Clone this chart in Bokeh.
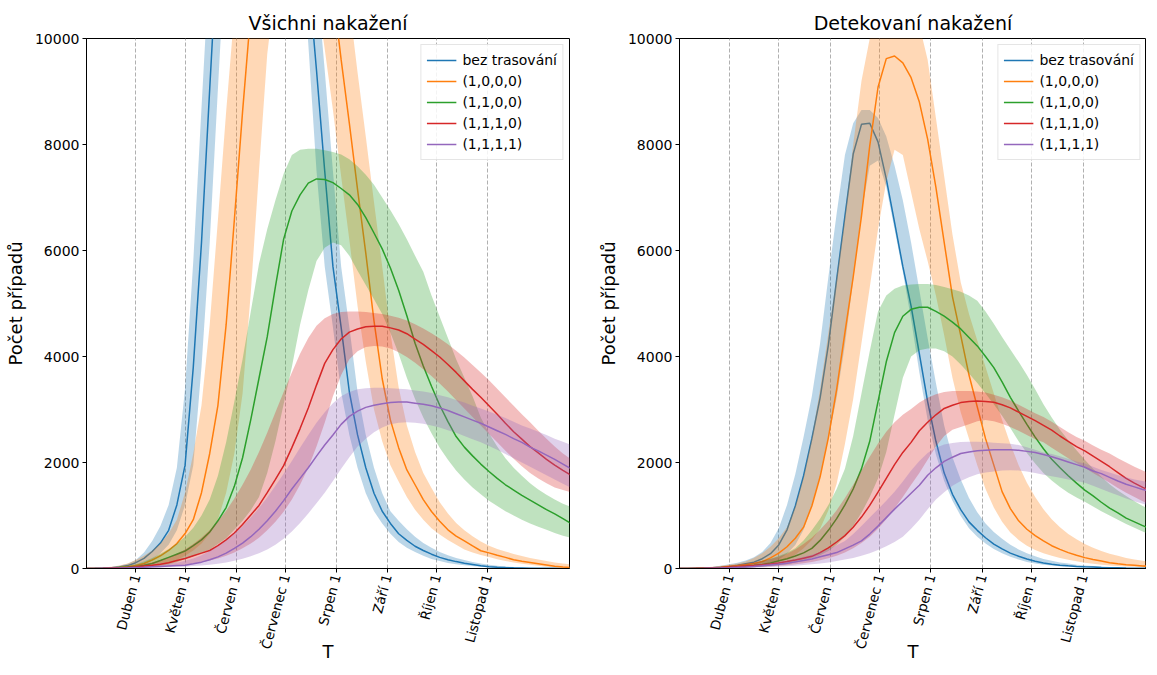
import math
from bokeh.plotting import figure
from bokeh.models import Range1d, FixedTicker, Legend, LegendItem
from bokeh.layouts import row
from bokeh.embed import file_html
from bokeh.resources import INLINE

# day index (days since 2 March), sampled every 5 days
DAYS = list(range(0, 300, 5))
MONTH_TICKS = [30, 60, 91, 121, 152, 183, 213, 244]
MONTH_LABELS = ["Duben 1", "Květen 1", "Červen 1", "Červenec 1",
                "Srpen 1", "Září 1", "Říjen 1", "Listopad 1"]
Y_TICKS = [0, 2000, 4000, 6000, 8000, 10000]
SERIES = ["bez trasování", "(1,0,0,0)", "(1,1,0,0)", "(1,1,1,0)", "(1,1,1,1)"]
COLORS = ["#1f77b4", "#ff7f0e", "#2ca02c", "#d62728", "#9467bd"]

# ---------------- Všichni nakažení (all infected) ----------------
all_blue_mean = [0,3,8,15,30,55,110,190,320,480,720,1200,1950,3800,6150,9050,11900,14500,16800,18500,19500,19800,19300,18000,16300,14500,12800,11200,9400,7500,5700,4550,3330,2520,1900,1420,1080,850,655,530,420,340,270,210,165,130,100,75,50,35,25,18,12,9,6,5,4,3,2,2]
all_blue_hi = [0,5,12,25,50,90,160,300,520,800,1200,1900,3400,5800,8700,11500,14000,16300,18200,19500,20200,20500,20300,19700,18700,17300,15500,13500,11200,9400,7500,5700,4550,3330,2520,1900,1420,1080,900,740,600,480,390,310,250,200,160,125,95,70,52,38,28,20,15,11,8,6,5,4]
all_blue_lo = [0,1,3,6,12,25,50,95,170,290,450,720,1200,1950,3800,6150,9050,11900,14500,16800,18300,19000,18900,17500,15700,13900,12000,9900,7500,5700,4550,3330,2520,1900,1420,1080,850,655,500,390,310,240,180,140,105,80,60,45,32,22,15,10,7,5,3,2,2,1,1,1]

all_orange_mean = [0,2,5,10,18,32,55,95,160,240,340,470,660,920,1430,2170,3080,4600,6580,8620,10500,12400,14000,15200,15900,16100,15700,14800,13600,12200,10900,9600,8400,7150,5950,4670,3580,2800,2280,1860,1580,1300,1075,890,730,610,520,425,335,295,250,210,165,136,113,90,67,44,28,20]
all_orange_hi = [2,8,18,32,55,95,160,240,340,470,660,920,1430,2170,3080,4600,6580,8620,10500,12400,14000,15300,16300,17000,17300,17300,17000,16300,15400,14200,12900,11900,10640,9360,8150,6910,5700,4450,3420,2700,2200,1800,1520,1250,1040,860,720,610,510,430,370,320,275,235,200,170,140,115,95,80]
all_orange_lo = [0,1,2,3,5,7,10,18,32,55,95,160,240,340,470,660,920,1430,2170,3300,5200,7500,9700,11000,11800,12200,12200,11800,10900,9800,8650,7400,6200,4950,3900,3000,2400,1950,1640,1350,1110,920,760,640,540,450,360,300,255,215,175,140,115,90,70,50,35,25,15,10]

all_green_mean = [0,2,5,10,18,25,35,60,95,150,210,270,330,430,540,690,900,1150,1550,2090,2810,3590,4370,5320,6215,6745,7050,7270,7350,7340,7280,7170,7050,6870,6620,6330,6030,5670,5250,4770,4250,3820,3440,3080,2770,2490,2290,2125,1970,1830,1700,1580,1480,1380,1290,1200,1110,1030,940,850]
all_green_hi = [0,3,8,18,30,50,80,130,200,280,370,470,600,770,1000,1300,1750,2380,3150,3950,4850,5750,6400,6950,7450,7800,7900,7920,7920,7890,7860,7810,7720,7590,7430,7240,7000,6760,6500,6210,5900,5600,5150,4750,4350,3950,3600,3250,2850,2550,2300,2080,1900,1750,1610,1490,1390,1300,1220,1160]
all_green_lo = [0,1,2,4,6,10,15,22,30,50,75,120,180,230,290,360,460,570,730,900,1100,1350,1800,2400,3100,3800,4600,5250,5800,6050,6150,6100,5900,5620,5350,5080,4800,4450,4050,3600,3200,2850,2550,2280,2050,1850,1680,1530,1400,1280,1180,1080,1000,920,850,790,730,670,620,580]

all_red_mean = [0,2,5,10,15,20,30,45,60,80,110,150,190,240,290,340,430,540,670,830,1010,1190,1430,1680,1940,2280,2640,3030,3460,3870,4130,4330,4460,4520,4560,4570,4570,4540,4500,4430,4330,4230,4110,3990,3850,3700,3540,3380,3230,3070,2910,2740,2580,2440,2300,2180,2060,1950,1850,1760]
all_red_hi = [0,3,8,15,25,40,60,90,120,160,210,280,360,460,580,720,890,1090,1320,1580,1870,2200,2560,2950,3330,3700,4050,4350,4580,4720,4800,4840,4850,4850,4840,4820,4800,4770,4730,4680,4610,4530,4440,4340,4230,4110,3980,3840,3700,3550,3390,3230,3070,2910,2760,2600,2450,2300,2170,2060]
all_red_lo = [0,1,2,4,6,9,12,16,22,30,40,55,70,90,115,150,190,240,300,380,470,580,720,880,1070,1300,1580,1900,2300,2750,3250,3650,3950,4100,4180,4200,4190,4150,4080,3990,3880,3760,3630,3490,3340,3180,3020,2860,2700,2540,2380,2220,2070,1930,1800,1700,1610,1530,1480,1440]

all_purple_mean = [0,1,3,5,8,12,18,24,32,40,48,55,62,90,120,165,220,290,380,480,600,740,900,1080,1280,1500,1700,1900,2120,2330,2520,2720,2870,2970,3040,3080,3110,3130,3140,3140,3120,3100,3070,3030,2980,2920,2860,2800,2740,2670,2600,2530,2450,2380,2290,2220,2140,2060,1970,1880]
all_purple_hi = [0,3,6,10,15,22,30,40,52,65,85,110,145,190,250,330,420,530,660,800,960,1140,1340,1560,1790,2030,2280,2520,2750,2950,3120,3250,3330,3380,3400,3410,3410,3400,3390,3380,3360,3340,3310,3270,3230,3180,3130,3070,3020,2960,2900,2840,2770,2700,2640,2580,2520,2450,2390,2330]
all_purple_lo = [0,0,1,2,3,5,8,10,13,17,22,28,35,45,55,70,90,115,145,185,230,290,360,450,560,700,860,1040,1230,1430,1650,1880,2100,2300,2450,2570,2660,2720,2750,2760,2750,2730,2700,2660,2610,2560,2500,2440,2380,2310,2240,2160,2080,2000,1920,1840,1760,1680,1600,1520]

# ---------------- Detekovaní nakažení (detected infected) ----------------
det_blue_mean = [0,2,4,8,15,25,40,60,90,120,185,280,445,730,1180,1750,2450,3220,4220,5450,6650,7820,8380,8400,8050,7350,6530,5700,4950,4050,3150,2400,1800,1400,1110,880,720,580,460,370,290,230,180,135,105,80,62,50,40,33,27,21,16,12,8,5,3,2,1,1]
det_blue_hi = [1,4,8,15,30,50,80,110,150,210,310,480,760,1200,1780,2480,3250,4250,5500,6700,7800,8400,8650,8650,8500,8150,7600,6950,6150,5250,4350,3500,2700,2100,1680,1330,1060,850,690,560,450,360,290,230,180,145,115,92,73,58,46,36,28,21,15,10,7,5,3,2]
det_blue_lo = [0,0,1,2,4,8,15,25,40,60,90,120,170,280,445,730,1180,1750,2450,3220,4220,5450,6700,7600,7700,7200,6400,5600,4700,3700,2800,2150,1650,1280,990,760,600,470,370,290,220,170,125,95,70,55,42,32,25,20,15,10,7,4,2,1,1,0,0,0]

det_orange_mean = [0,1,3,6,10,20,37,50,70,95,130,200,290,410,570,780,1180,1730,2470,3380,4450,5500,6650,7975,9080,9620,9670,9540,9260,8800,8100,7190,6155,5130,4400,3650,3050,2450,1950,1450,1130,900,740,620,520,430,360,300,250,205,170,140,110,88,72,60,48,40,33,28]
det_orange_hi = [2,5,10,20,35,50,70,95,130,200,290,410,570,780,1180,1730,2470,3380,4450,5500,6650,8000,9200,10000,10500,10800,10800,10700,10400,10250,9600,8500,7400,6300,5400,4800,4300,3800,3300,2800,2350,1950,1620,1350,1120,930,780,650,550,460,390,330,280,240,200,170,145,125,108,95]
det_orange_lo = [0,0,1,2,3,5,8,15,25,40,60,85,115,180,260,380,540,750,1100,1600,2350,3200,4250,5300,6400,7300,7900,7800,7100,6400,5800,5150,4400,3600,2950,2450,1950,1500,1150,880,680,540,430,350,290,240,200,165,135,110,90,72,58,47,38,31,25,20,16,13]

det_green_mean = [0,1,3,5,8,12,18,28,40,55,75,105,145,185,235,295,380,530,720,940,1200,1500,1880,2400,3150,3900,4450,4760,4890,4930,4930,4850,4760,4650,4520,4360,4200,4000,3790,3520,3230,2970,2720,2480,2260,2060,1900,1750,1610,1480,1370,1250,1140,1050,950,880,810,740,680,630]
det_green_hi = [2,5,8,12,18,28,40,55,75,105,145,185,235,295,380,530,720,940,1200,1500,1880,2500,3300,4100,4850,5150,5280,5340,5360,5370,5370,5350,5310,5270,5220,5150,5050,4850,4620,4370,4130,3900,3650,3380,3100,2850,2620,2420,2230,2050,1880,1730,1590,1470,1370,1270,1180,1110,1060,1010]
det_green_lo = [0,0,1,2,2,4,6,10,15,22,32,45,60,80,110,150,200,250,330,450,600,800,1050,1350,1700,2200,2900,3600,4000,4120,4150,4150,4100,4000,3850,3680,3500,3300,3100,2880,2650,2400,2180,1980,1800,1660,1540,1430,1340,1260,1170,1080,1000,920,840,770,700,630,570,520]

det_red_mean = [0,1,3,5,10,15,25,35,45,55,70,85,105,130,160,195,230,300,390,500,620,780,970,1190,1440,1700,1960,2190,2380,2600,2760,2900,3020,3080,3130,3150,3160,3150,3135,3090,3030,2950,2870,2790,2700,2610,2500,2400,2300,2220,2120,2020,1920,1810,1700,1610,1530,1460,1390,1330]
det_red_hi = [2,5,10,18,28,40,55,70,90,115,145,180,220,280,360,460,580,730,900,1100,1330,1580,1850,2110,2360,2580,2760,2900,3010,3130,3220,3290,3330,3350,3350,3350,3340,3320,3280,3230,3170,3090,3010,2930,2860,2770,2670,2570,2480,2410,2320,2240,2170,2080,2000,1920,1850,1780,1720,1660]
det_red_lo = [0,0,1,2,3,5,8,12,18,25,32,40,50,62,80,100,125,155,195,240,300,380,480,600,750,930,1130,1350,1580,1800,2050,2300,2500,2620,2670,2720,2780,2800,2780,2730,2670,2600,2520,2440,2380,2280,2180,2080,1990,1900,1800,1710,1620,1520,1430,1350,1270,1200,1140,1090]

det_purple_mean = [0,1,2,4,7,10,15,22,30,40,52,65,80,100,125,150,180,220,260,300,370,440,520,650,800,960,1120,1270,1420,1570,1760,1900,2020,2100,2170,2200,2220,2230,2240,2240,2240,2230,2210,2190,2150,2110,2060,2010,1960,1910,1840,1790,1720,1650,1590,1540,1490,1460,1420,1380]
det_purple_hi = [2,4,7,10,15,22,30,40,52,65,80,100,125,150,180,220,260,310,370,440,520,650,800,960,1120,1280,1450,1640,1850,2030,2180,2280,2340,2370,2385,2390,2390,2385,2375,2365,2355,2330,2290,2240,2190,2160,2120,2070,2020,1980,1920,1860,1810,1760,1720,1680,1650,1620,1590,1560]
det_purple_lo = [0,0,1,1,2,3,5,7,10,14,20,26,33,42,52,64,78,95,115,140,170,200,240,290,350,420,500,600,750,920,1120,1300,1440,1560,1650,1720,1780,1810,1830,1850,1855,1850,1830,1800,1770,1740,1710,1680,1650,1620,1560,1500,1440,1380,1320,1270,1220,1180,1140,1100]

FONT = "DejaVu Sans"


def make_panel(title, means, los, his, width, height, x_end, b_left, b_right, b_top, b_bottom):
    p = figure(width=width, height=height,
               x_range=Range1d(0, x_end), y_range=Range1d(0, 10000),
               output_backend="svg", toolbar_location=None,
               min_border_left=b_left, min_border_right=b_right,
               min_border_top=b_top, min_border_bottom=b_bottom,
               background_fill_color="white", border_fill_color="white")
    p.title.text = title
    p.title.align = "center"
    p.title.text_font = FONT
    p.title.text_font_size = "19px"
    p.title.text_font_style = "normal"
    p.title.text_color = "black"

    p.outline_line_color = "black"
    p.outline_line_width = 1

    p.xaxis.ticker = FixedTicker(ticks=MONTH_TICKS)
    p.xaxis.major_label_overrides = dict(zip(MONTH_TICKS, MONTH_LABELS))
    p.xaxis.major_label_orientation = math.radians(75)
    p.xaxis.axis_label = "T"
    p.yaxis.ticker = FixedTicker(ticks=Y_TICKS)
    p.yaxis.axis_label = "Počet případů"

    for ax in (p.xaxis[0], p.yaxis[0]):
        ax.axis_line_color = "black"
        ax.major_tick_line_color = "black"
        ax.minor_tick_line_color = None
        ax.major_tick_out = 4
        ax.major_tick_in = 0
        ax.major_label_text_font = FONT
        ax.major_label_text_font_size = "14px"
        ax.major_label_text_color = "black"
        ax.major_label_standoff = 3
        ax.axis_label_text_font = FONT
        ax.axis_label_text_font_size = "18px"
        ax.axis_label_text_font_style = "normal"
        ax.axis_label_text_color = "black"
    p.xaxis.major_label_text_font_size = "13.5px"
    p.xaxis.major_label_standoff = 2
    p.xaxis.axis_label_standoff = -15
    p.yaxis.axis_label_standoff = 6

    p.ygrid.visible = False
    p.xgrid.grid_line_color = "#b0b0b0"
    p.xgrid.grid_line_dash = "4 2"
    p.xgrid.grid_line_width = 1

    items = []
    for name, c, m, lo, hi in zip(SERIES, COLORS, means, los, his):
        r = p.line(DAYS, m, line_color=c, line_width=1.5)
        p.varea(x=DAYS, y1=lo, y2=hi, fill_color=c, fill_alpha=0.3)
        items.append(LegendItem(label=name, renderers=[r]))

    legend = Legend(items=items, location="top_right",
                    label_text_font=FONT, label_text_font_size="14px",
                    label_text_color="black",
                    glyph_width=30, glyph_height=20, label_height=20,
                    spacing=1, padding=5, margin=6, label_standoff=6,
                    border_line_color="#cccccc", border_line_width=1,
                    background_fill_color="white", background_fill_alpha=0.85)
    p.add_layout(legend)
    return p


left = make_panel("Všichni nakažení",
                  [all_blue_mean, all_orange_mean, all_green_mean, all_red_mean, all_purple_mean],
                  [all_blue_lo, all_orange_lo, all_green_lo, all_red_lo, all_purple_lo],
                  [all_blue_hi, all_orange_hi, all_green_hi, all_red_hi, all_purple_hi],
                  width=589, height=664, x_end=294,
                  b_left=86, b_right=20, b_top=36, b_bottom=60)

right = make_panel("Detekovaní nakažení",
                   [det_blue_mean, det_orange_mean, det_green_mean, det_red_mean, det_purple_mean],
                   [det_blue_lo, det_orange_lo, det_green_lo, det_red_lo, det_purple_lo],
                   [det_blue_hi, det_orange_hi, det_green_hi, det_red_hi, det_purple_hi],
                   width=557, height=664, x_end=282.3,
                   b_left=90, b_right=0, b_top=38, b_bottom=60)

layout = row(left, right)
open("out.html", "w").write(file_html(layout, INLINE))
